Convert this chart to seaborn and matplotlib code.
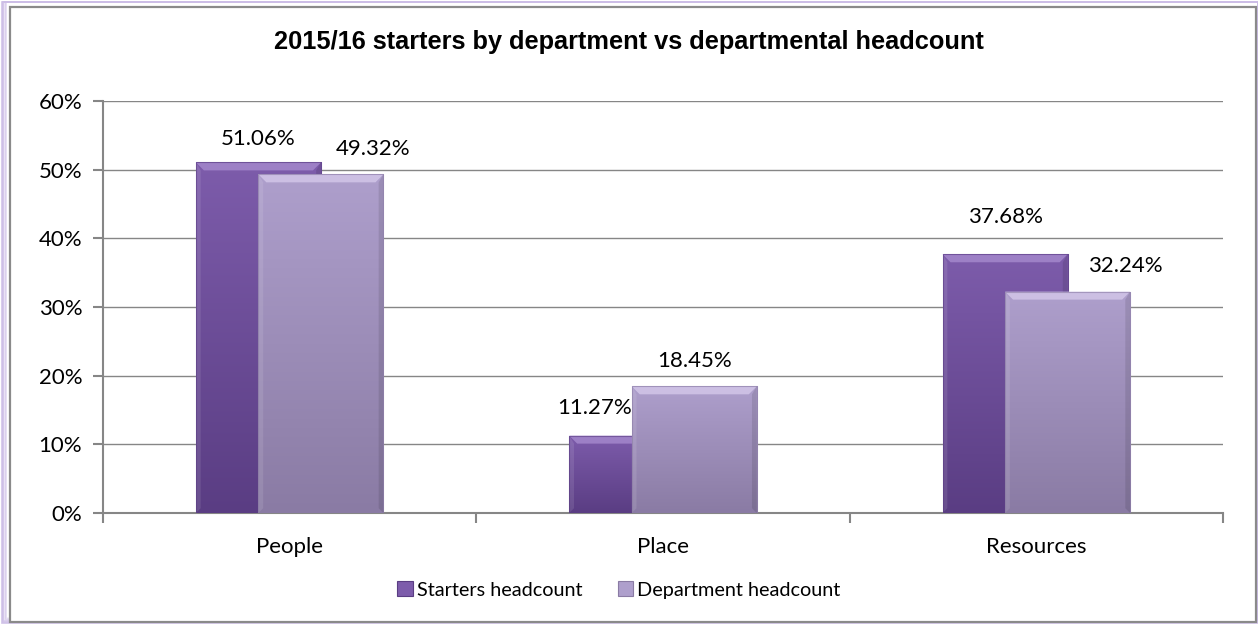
import numpy as np
import pandas as pd
import matplotlib
matplotlib.use("Agg")
import matplotlib.pyplot as plt
import matplotlib.patches as mpatches
from matplotlib.colors import LinearSegmentedColormap
import seaborn as sns

# ---- data -------------------------------------------------------------
departments = ["People", "Place", "Resources"]
series_names = ["Starters headcount", "Department headcount"]
starters_pct = [51.06, 11.27, 37.68]
headcount_pct = [49.32, 18.45, 32.24]
y_ticks = [0, 10, 20, 30, 40, 50, 60]
title_text = "2015/16 starters by department vs departmental headcount"

# label placement tweaks (pixels from the top-centre of each bar)
label_offsets = {
    "Starters headcount": [(0, 23), (-37, 28), (0, 37)],
    "Department headcount": [(52, 25), (0, 25), (58, 26)],
}

# ---- styling ------------------------------------------------------------
sns.set_theme(style="white")
plt.rcParams["font.family"] = ["Lato", "DejaVu Sans"]
plt.rcParams["text.color"] = "black"
plt.rcParams["xtick.color"] = "black"
plt.rcParams["ytick.color"] = "black"

grid_col = "#868686"
fill_top = {"Starters headcount": "#7d5cab", "Department headcount": "#ae9fcc"}
fill_bot = {"Starters headcount": "#5a3d83", "Department headcount": "#8a7ba4"}
bevel_col = {"Starters headcount": "#a487cc", "Department headcount": "#d2c6e8"}
label_size = 16
legend_size = 14.3

W, H = 1258, 624
fig = plt.figure(figsize=(W / 100, H / 100), dpi=100)
fig.patch.set_facecolor("white")

# chart frame with a soft lavender glow at the top-left edge
for i, a in enumerate(np.linspace(0.9, 0.25, 6)):
    fig.patches.append(mpatches.Rectangle(
        ((1.5 + i) / W, (i + 1) / H), (W - 2 - i) / W, (H - 2 - i - 1) / H,
        transform=fig.transFigure, fill=False, lw=1.2,
        edgecolor=(0.80, 0.74, 0.90, a), zorder=-3))
fig.patches.append(mpatches.Rectangle(
    (10 / W, 2 / H), (W - 12) / W, (H - 9) / H, transform=fig.transFigure,
    fill=True, facecolor="white", edgecolor="#8a8a8a", lw=1.6, zorder=-2))

ax = fig.add_axes([103 / W, 1 - 513 / H, 1120 / W, 412 / H])
ax.set_facecolor("none")
ax.patch.set_visible(False)

df = pd.DataFrame({
    "department": departments * 2,
    "series": [series_names[0]] * 3 + [series_names[1]] * 3,
    "pct": starters_pct + headcount_pct,
})

sns.barplot(data=df, x="department", y="pct", hue="series",
            order=departments, hue_order=series_names,
            width=0.67, dodge=True, gap=0, legend=False,
            palette=[fill_top[s] for s in series_names],
            errorbar=None, ax=ax, zorder=3, linewidth=0)

ax.set_xlim(-0.5, 2.5)
ax.set_ylim(0, 60)

# pull the two series together so each pair overlaps by half a bar
overlap_shift = 0.0838
for k, cont in enumerate(ax.containers):
    sign = 1 if k == 0 else -1
    for p in cont.patches:
        p.set_x(p.get_x() + sign * overlap_shift)
        p.set_zorder(3 + k)

fig.canvas.draw()
px_per_x = ax.transData.transform((1, 0))[0] - ax.transData.transform((0, 0))[0]
px_per_y = ax.transData.transform((0, 1))[1] - ax.transData.transform((0, 0))[1]

for k, (cont, name) in enumerate(zip(ax.containers, series_names)):
    cmap = LinearSegmentedColormap.from_list(name, [fill_bot[name], fill_top[name]])
    for p in cont.patches:
        x0, y0 = p.get_x(), p.get_y()
        w, h = p.get_width(), p.get_height()
        z = p.get_zorder()
        p.set_facecolor("none")
        grad = np.linspace(0, 1, 256).reshape(-1, 1)
        im = ax.imshow(grad, cmap=cmap, origin="lower", aspect="auto",
                       extent=(x0, x0 + w, y0, y0 + h), zorder=z,
                       interpolation="bicubic")
        im.set_clip_path(p)
        bx = 8 / px_per_x
        by = 8 / px_per_y
        top = y0 + h
        # bevel highlights: top face and slight side shading
        ax.add_patch(mpatches.Polygon(
            [(x0, top), (x0 + w, top), (x0 + w - bx, top - by), (x0 + bx, top - by)],
            closed=True, facecolor=bevel_col[name], edgecolor="none",
            alpha=0.85, zorder=z + 0.1))
        ax.add_patch(mpatches.Polygon(
            [(x0 + w, top), (x0 + w, y0), (x0 + w - bx * 0.6, y0 + by * 0.6),
             (x0 + w - bx * 0.6, top - by)],
            closed=True, facecolor="black", edgecolor="none",
            alpha=0.10, zorder=z + 0.1))
        ax.add_patch(mpatches.Polygon(
            [(x0, top), (x0, y0), (x0 + bx * 0.6, y0 + by * 0.6),
             (x0 + bx * 0.6, top - by)],
            closed=True, facecolor="white", edgecolor="none",
            alpha=0.10, zorder=z + 0.1))
        ax.add_patch(mpatches.Rectangle((x0, y0), w, h, fill=False,
                                        edgecolor=fill_bot[name], lw=0.8,
                                        alpha=0.6, zorder=z + 0.2))

# value labels
for cont, name in zip(ax.containers, series_names):
    for p, (dx, dy) in zip(cont.patches, label_offsets[name]):
        val = p.get_height()
        ax.annotate(f"{val:.2f}%", (p.get_x() + p.get_width() / 2, val),
                    xytext=(dx, dy), textcoords="offset pixels",
                    ha="center", va="center", fontsize=label_size, color="black",
                    zorder=10)

# axes, grid, ticks
ax.set_yticks(y_ticks)
ax.set_yticklabels([f"{t}%" for t in y_ticks])
ax.yaxis.grid(True, color=grid_col, lw=1.0)
ax.set_axisbelow(True)
for s in ["top", "right"]:
    ax.spines[s].set_visible(False)
for s in ["left", "bottom"]:
    ax.spines[s].set_color(grid_col)
    ax.spines[s].set_linewidth(1.5)

ax.set_xticks([-0.5, 0.5, 1.5, 2.5])
ax.set_xticklabels([])
ax.set_xticks(range(len(departments)), minor=True)
ax.set_xticklabels(departments, minor=True)
ax.tick_params(axis="x", which="major", length=7, width=1.5, color=grid_col,
               direction="out", bottom=True)
ax.tick_params(axis="x", which="minor", length=0, pad=17, labelsize=label_size,
               labelcolor="black")
ax.tick_params(axis="y", length=7, width=1.5, color=grid_col, direction="out",
               left=True, pad=8, labelsize=label_size, labelcolor="black")
ax.set_xlabel("")
ax.set_ylabel("")

fig.text(0.5, 1 - 42 / H, title_text, ha="center", va="center", color="black",
         fontsize=18.3, fontweight="bold", family=["Liberation Sans", "DejaVu Sans"])

handles = [mpatches.Patch(facecolor=fill_top[s], edgecolor=fill_bot[s], lw=0.8)
           for s in series_names]
fig.legend(handles, series_names, loc="center", bbox_to_anchor=(619 / W, 1 - 590 / H),
           ncol=2, frameon=False, fontsize=legend_size, handlelength=0.8,
           handleheight=0.8, handletextpad=0.2, columnspacing=1.75)

fig.savefig("out.png", dpi=100)
